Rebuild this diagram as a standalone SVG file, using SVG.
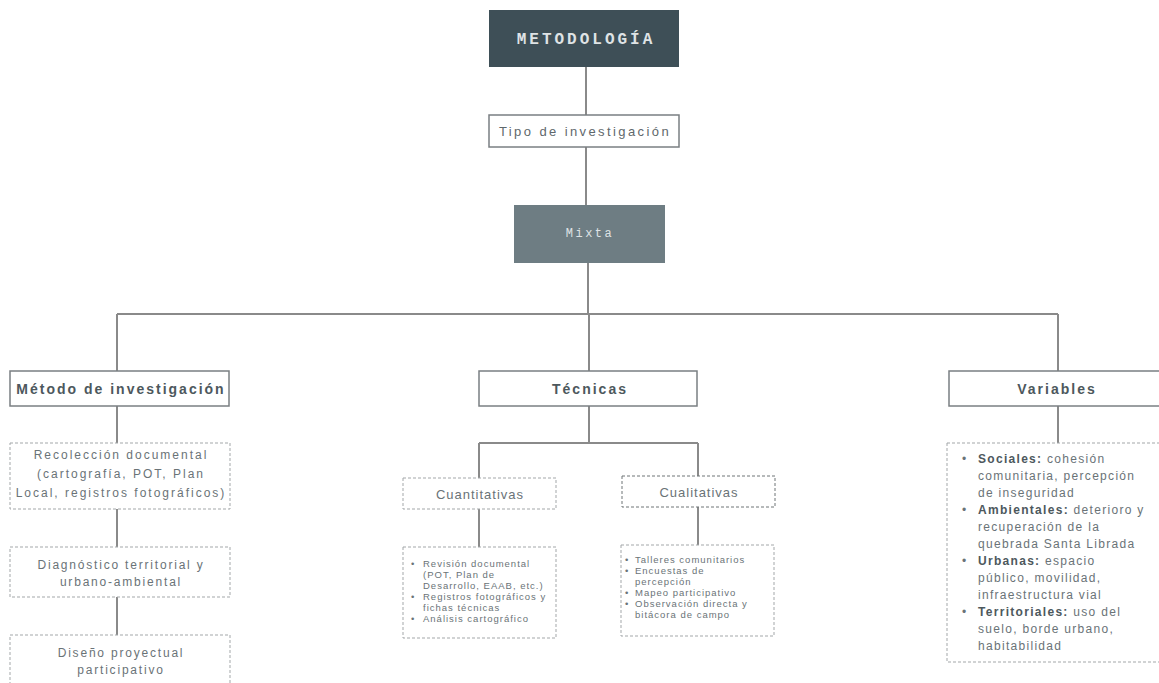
<svg xmlns="http://www.w3.org/2000/svg" width="1159" height="683" viewBox="0 0 1159 683">
<style>
.bg{fill:#ffffff}
.ln{stroke:#8a8a8a;stroke-width:2;fill:none}
.solid{fill:#ffffff;stroke:#7a7f82;stroke-width:1.5}
.dash{fill:#ffffff;stroke:#a3a7a9;stroke-width:1;stroke-dasharray:3 2}
.dashdk{fill:#ffffff;stroke:#6f7477;stroke-width:1;stroke-dasharray:3 2}
.mono{font-family:"Liberation Mono","DejaVu Sans Mono",monospace;fill:#dfe3e5;text-anchor:middle}
.hd{font-family:"Liberation Sans",Arial,sans-serif;font-weight:bold;font-size:14px;letter-spacing:2px;fill:#4d585d;text-anchor:middle}
.tx{font-family:"Liberation Sans",Arial,sans-serif;font-size:12px;letter-spacing:1.8px;fill:#6a7377;text-anchor:middle}
.sm{font-family:"Liberation Sans",Arial,sans-serif;font-size:9.5px;letter-spacing:1px;fill:#6a7377}
.vt{font-family:"Liberation Sans",Arial,sans-serif;font-size:12px;letter-spacing:1.3px;fill:#6a7377}
.vb{font-weight:bold;fill:#4d585d}
</style>
<rect class="bg" x="0" y="0" width="1159" height="683"/>
<g id="connectors">
<path class="ln" d="M586 67V115"/>
<path class="ln" d="M586 147V205"/>
<path class="ln" d="M588 263V314"/>
<path class="ln" d="M117 314H1058"/>
<path class="ln" d="M117 314V371"/>
<path class="ln" d="M589 314V371"/>
<path class="ln" d="M1058 314V371"/>
<path class="ln" d="M117 406V443"/>
<path class="ln" d="M117 509V547"/>
<path class="ln" d="M117 597V635"/>
<path class="ln" d="M589 406V443"/>
<path class="ln" d="M479 443H698"/>
<path class="ln" d="M479 443V478"/>
<path class="ln" d="M698 443V476"/>
<path class="ln" d="M479 509V547"/>
<path class="ln" d="M698 507V545"/>
<path class="ln" d="M1058 406V443"/>
</g>
<g id="metodologia">
<rect x="489" y="10" width="190" height="57" fill="#3e4f57"/>
<text class="mono" x="586" y="44" style="font-size:16px;font-weight:bold;letter-spacing:3px">METODOLOGÍA</text>
</g>
<g id="tipo">
<rect class="solid" x="489" y="115" width="190" height="32"/>
<text class="tx" x="585" y="136" style="font-size:13px;letter-spacing:2.4px;fill:#5f686c">Tipo de investigación</text>
</g>
<g id="mixta">
<rect x="514" y="205" width="151" height="58" fill="#6e7d83"/>
<text class="mono" x="590" y="237" style="font-size:12px;letter-spacing:2.5px">Mixta</text>
</g>
<g id="metodo">
<rect class="solid" x="10" y="371" width="219" height="35"/>
<text class="hd" x="121" y="394">Método de investigación</text>
</g>
<g id="recoleccion">
<rect class="dash" x="10" y="443" width="220" height="66"/>
<text class="tx" x="121" y="459" style="letter-spacing:2px">Recolección documental</text>
<text class="tx" x="121" y="478" style="letter-spacing:2px">(cartografía, POT, Plan</text>
<text class="tx" x="121" y="497" style="letter-spacing:2px">Local, registros fotográficos)</text>
</g>
<g id="diagnostico">
<rect class="dash" x="10" y="547" width="220" height="50"/>
<text class="tx" x="121" y="569">Diagnóstico territorial y</text>
<text class="tx" x="121" y="586">urbano-ambiental</text>
</g>
<g id="diseno">
<rect class="dash" x="10" y="635" width="220" height="60"/>
<text class="tx" x="121" y="657">Diseño proyectual</text>
<text class="tx" x="121" y="674">participativo</text>
</g>
<g id="tecnicas">
<rect class="solid" x="479" y="371" width="218" height="35"/>
<text class="hd" x="590" y="394">Técnicas</text>
</g>
<g id="cuantitativas">
<rect class="dash" x="403" y="478" width="153" height="31"/>
<text class="tx" x="480" y="499" style="font-size:13px;letter-spacing:1px">Cuantitativas</text>
</g>
<g id="cualitativas">
<rect class="dashdk" x="622" y="476" width="153" height="31"/>
<text class="tx" x="699" y="497" style="font-size:13px;letter-spacing:1px">Cualitativas</text>
</g>
<g id="lista-cuantitativas">
<rect class="dash" x="403" y="547" width="153" height="91"/>
<text class="sm" x="411" y="567">•</text>
<text class="sm" x="423" y="567">Revisión documental</text>
<text class="sm" x="423" y="578">(POT, Plan de</text>
<text class="sm" x="423" y="589">Desarrollo, EAAB, etc.)</text>
<text class="sm" x="411" y="600">•</text>
<text class="sm" x="423" y="600">Registros fotográficos y</text>
<text class="sm" x="423" y="611">fichas técnicas</text>
<text class="sm" x="411" y="622">•</text>
<text class="sm" x="423" y="622">Análisis cartográfico</text>
</g>
<g id="lista-cualitativas">
<rect class="dash" x="621" y="545" width="153" height="91"/>
<text class="sm" x="625" y="563">•</text>
<text class="sm" x="635" y="563">Talleres comunitarios</text>
<text class="sm" x="625" y="574">•</text>
<text class="sm" x="635" y="574">Encuestas de</text>
<text class="sm" x="635" y="585">percepción</text>
<text class="sm" x="625" y="596">•</text>
<text class="sm" x="635" y="596">Mapeo participativo</text>
<text class="sm" x="625" y="607">•</text>
<text class="sm" x="635" y="607">Observación directa y</text>
<text class="sm" x="635" y="618">bitácora de campo</text>
</g>
<g id="variables">
<rect class="solid" x="949" y="371" width="215" height="35"/>
<text class="hd" x="1057" y="394">Variables</text>
</g>
<g id="lista-variables">
<rect class="dash" x="947" y="443" width="220" height="219"/>
<text class="vt" x="962" y="463">•</text>
<text class="vt" x="978" y="463"><tspan class="vb">Sociales:</tspan> cohesión</text>
<text class="vt" x="978" y="480">comunitaria, percepción</text>
<text class="vt" x="978" y="497">de inseguridad</text>
<text class="vt" x="962" y="514">•</text>
<text class="vt" x="978" y="514"><tspan class="vb">Ambientales:</tspan> deterioro y</text>
<text class="vt" x="978" y="531">recuperación de la</text>
<text class="vt" x="978" y="548">quebrada Santa Librada</text>
<text class="vt" x="962" y="565">•</text>
<text class="vt" x="978" y="565"><tspan class="vb">Urbanas:</tspan> espacio</text>
<text class="vt" x="978" y="582">público, movilidad,</text>
<text class="vt" x="978" y="599">infraestructura vial</text>
<text class="vt" x="962" y="616">•</text>
<text class="vt" x="978" y="616"><tspan class="vb">Territoriales:</tspan> uso del</text>
<text class="vt" x="978" y="633">suelo, borde urbano,</text>
<text class="vt" x="978" y="650">habitabilidad</text>
</g>
</svg>
